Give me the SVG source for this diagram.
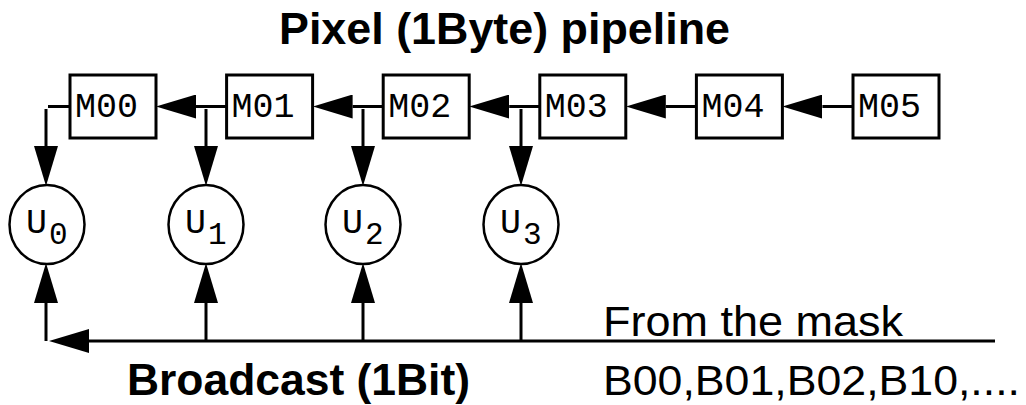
<svg xmlns="http://www.w3.org/2000/svg" width="1026" height="405" viewBox="0 0 1026 405">
<style>
.box{fill:#fff;stroke:#000;stroke-width:3}
.unit{fill:#fff;stroke:#000;stroke-width:2.5}
.mono{font-family:"Liberation Mono","Courier New",monospace;font-size:35px;fill:#000}
.sub{font-family:"Liberation Mono","Courier New",monospace;font-size:31px;fill:#000}
.ln{stroke:#000;stroke-width:3;fill:none}
.title{font-family:"Liberation Sans",Arial,sans-serif;font-weight:bold;font-size:44px;fill:#000}
.lbl{font-family:"Liberation Sans",Arial,sans-serif;font-size:42px;fill:#000}
</style>
<defs>
<marker id="ah" viewBox="0 0 40 24" refX="0" refY="12" markerWidth="40" markerHeight="24" markerUnits="userSpaceOnUse" orient="auto">
<path d="M0,0 L40,12 L0,24 Z" fill="#000"/>
</marker>
</defs>
<rect width="1026" height="405" fill="#fff"/>
<text class="title" x="279" y="44" textLength="451" lengthAdjust="spacingAndGlyphs">Pixel (1Byte) pipeline</text>
<g id="connectors">
<line class="ln" x1="48" y1="106.5" x2="70" y2="106.5"/>
<line class="ln" x1="226.6" y1="106.5" x2="196" y2="106.5" marker-end="url(#ah)"/>
<line class="ln" x1="383.2" y1="106.5" x2="352.6" y2="106.5" marker-end="url(#ah)"/>
<line class="ln" x1="539.8" y1="106.5" x2="509.2" y2="106.5" marker-end="url(#ah)"/>
<line class="ln" x1="696.4" y1="106.5" x2="665.8" y2="106.5" marker-end="url(#ah)"/>
<line class="ln" x1="853" y1="106.5" x2="822.4" y2="106.5" marker-end="url(#ah)"/>
<line class="ln" x1="46" y1="109" x2="46" y2="146" marker-end="url(#ah)"/>
<line class="ln" x1="206" y1="109" x2="206" y2="146" marker-end="url(#ah)"/>
<line class="ln" x1="363" y1="109" x2="363" y2="146" marker-end="url(#ah)"/>
<line class="ln" x1="521" y1="109" x2="521" y2="146" marker-end="url(#ah)"/>
<line class="ln" x1="46" y1="341" x2="46" y2="303" marker-end="url(#ah)"/>
<line class="ln" x1="206" y1="341" x2="206" y2="303" marker-end="url(#ah)"/>
<line class="ln" x1="363" y1="341" x2="363" y2="303" marker-end="url(#ah)"/>
<line class="ln" x1="521" y1="341" x2="521" y2="303" marker-end="url(#ah)"/>
<line class="ln" x1="995" y1="341" x2="89" y2="341" marker-end="url(#ah)"/>
</g>
<g id="M00"><rect class="box" x="70" y="75" width="86" height="63"/><text class="mono" x="75" y="117">M00</text></g>
<g id="M01"><rect class="box" x="226.6" y="75" width="86" height="63"/><text class="mono" x="231.6" y="117">M01</text></g>
<g id="M02"><rect class="box" x="383.2" y="75" width="86" height="63"/><text class="mono" x="388.2" y="117">M02</text></g>
<g id="M03"><rect class="box" x="539.8" y="75" width="86" height="63"/><text class="mono" x="544.8" y="117">M03</text></g>
<g id="M04"><rect class="box" x="696.4" y="75" width="86" height="63"/><text class="mono" x="701.4" y="117">M04</text></g>
<g id="M05"><rect class="box" x="853" y="75" width="86" height="63"/><text class="mono" x="858" y="117">M05</text></g>
<g id="U0"><ellipse class="unit" cx="47" cy="224.5" rx="37.5" ry="39.5"/><text class="mono" x="26" y="233">U</text><text class="sub" x="49" y="244">0</text></g>
<g id="U1"><ellipse class="unit" cx="206" cy="224.5" rx="37.5" ry="39.5"/><text class="mono" x="185" y="233">U</text><text class="sub" x="208" y="244">1</text></g>
<g id="U2"><ellipse class="unit" cx="363" cy="224.5" rx="37.5" ry="39.5"/><text class="mono" x="342" y="233">U</text><text class="sub" x="365" y="244">2</text></g>
<g id="U3"><ellipse class="unit" cx="521" cy="224.5" rx="37.5" ry="39.5"/><text class="mono" x="500" y="233">U</text><text class="sub" x="523" y="244">3</text></g>
<text class="lbl" x="603" y="336" textLength="300" lengthAdjust="spacingAndGlyphs">From the mask</text>
<text class="lbl" x="603" y="395" textLength="417" lengthAdjust="spacingAndGlyphs">B00,B01,B02,B10,....</text>
<text class="title" x="127" y="395" textLength="343" lengthAdjust="spacingAndGlyphs">Broadcast (1Bit)</text>
</svg>
